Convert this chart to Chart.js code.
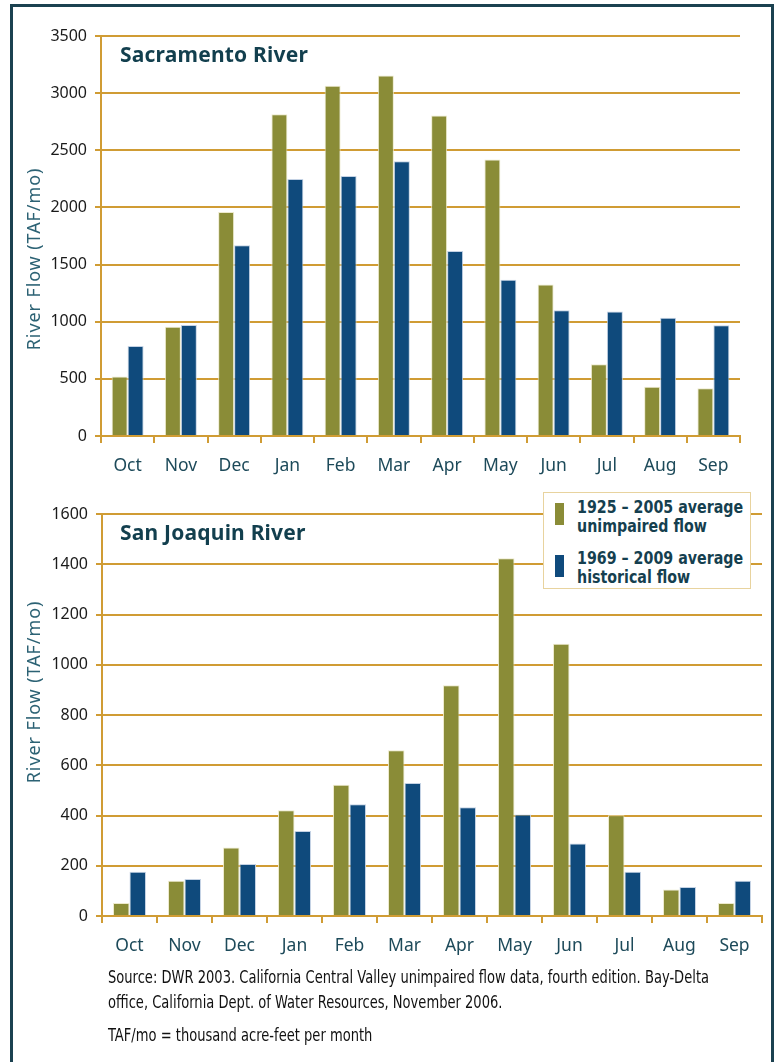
<!DOCTYPE html>
<html>
<head>
<meta charset="utf-8">
<script src="https://cdn.jsdelivr.net/npm/chart.js@4"></script>
<style>
  html, body { margin: 0; padding: 0; background: #fff; }
  body { width: 776px; height: 1062px; position: relative; overflow: hidden; }
  .frame { position: absolute; left: 10px; top: 4px; width: 758px; height: 1100px; border: 3px solid #1b4150; }
  .panel { position: absolute; left: 0; width: 776px; }
  .panel canvas { display: block; }
  .ptitle { position: absolute; left: 120px; font: bold 21px "Noto Sans", sans-serif; color: #123f4e; letter-spacing: 0.2px; }
  .ytitle { position: absolute; font: 18px "Noto Sans", sans-serif; color: #2c6274; letter-spacing: 0.9px;
            white-space: nowrap; transform: translate(-50%, -50%) rotate(-90deg); }
  .legend { position: absolute; left: 543px; top: 492px; width: 206px; height: 95px; background: #fff;
            border: 1.5px solid #e8d39e; font: bold 18px "DejaVu Sans Condensed", sans-serif;
            color: #153f4f; line-height: 19px; }
  .legend .item { position: absolute; left: 22px; }
  .legend .sw { position: absolute; left: -10px; width: 9px; height: 22px; }
  .legend .ln { white-space: nowrap; transform-origin: 0 50%; }
  .source { position: absolute; left: 108px; top: 964px; font: 18px "DejaVu Sans Condensed", sans-serif;
            color: #111; line-height: 25px; }
  .source .ln { white-space: nowrap; transform-origin: 0 50%; }
  .source .gap { height: 8px; }
</style>
</head>
<body>
<div class="frame"></div>

<div class="panel" style="top:0; height:490px;"><canvas id="sacChart" width="776" height="490"></canvas></div>
<div class="panel" style="top:490px; height:480px;"><canvas id="sjChart" width="776" height="480"></canvas></div>

<div class="ptitle" style="top:40px;">Sacramento River</div>
<div class="ptitle" style="top:518px;">San Joaquin River</div>
<div class="ytitle" style="left:33px; top:259px;">River Flow (TAF/mo)</div>
<div class="ytitle" style="left:33px; top:692px;">River Flow (TAF/mo)</div>

<div class="legend" id="legend">
  <span class="sw" style="left:11px; top:10px; background:#8a8c37;"></span>
  <span class="sw" style="left:11px; top:62px; background:#0f4a7c;"></span>
  <div class="item" style="left:33px; top:4px;"><div class="ln">1925 – 2005 average</div><div class="ln">unimpaired flow</div></div>
  <div class="item" style="left:33px; top:55px;"><div class="ln">1969 – 2009 average</div><div class="ln">historical flow</div></div>
</div>

<div class="source" id="source">
  <div class="ln">Source: DWR 2003. California Central Valley unimpaired flow data, fourth edition. Bay-Delta</div>
  <div class="ln">office, California Dept. of Water Resources, November 2006.</div>
  <div class="gap"></div>
  <div class="ln">TAF/mo = thousand acre-feet per month</div>
</div>

<script>
const months = ["Oct", "Nov", "Dec", "Jan", "Feb", "Mar", "Apr", "May", "Jun", "Jul", "Aug", "Sep"];

// Sacramento River, TAF/mo
const sacUnimpaired = [520, 955, 1960, 2815, 3065, 3155, 2805, 2420, 1325, 628, 432, 418];
const sacHistorical = [788, 972, 1668, 2248, 2275, 2405, 1618, 1368, 1100, 1090, 1035, 970];

// San Joaquin River, TAF/mo
const sjUnimpaired = [52, 140, 273, 421, 522, 660, 918, 1424, 1084, 401, 105, 52];
const sjHistorical = [176, 147, 207, 338, 445, 529, 433, 404, 289, 176, 115, 140];

const seriesLabels = ["1925 – 2005 average unimpaired flow", "1969 – 2009 average historical flow"];

const GREEN = "#8a8c37";
const BLUE = "#0f4a7c";
const GOLD = "#d09c34";

function makeChart(id, a, b, yMax, yStep, pad, axisWidth) {
    new Chart(document.getElementById(id), {
        type: "bar",
        data: {
            labels: months,
            datasets: [
                { label: seriesLabels[0], data: a, backgroundColor: GREEN, borderColor: "rgba(235,232,200,0.9)", borderWidth: 1 },
                { label: seriesLabels[1], data: b, backgroundColor: BLUE, borderColor: "rgba(190,205,225,0.9)", borderWidth: 1 }
            ]
        },
        options: {
            responsive: false,
            animation: false,
            layout: { padding: pad },
            datasets: { bar: { categoryPercentage: 0.6, barPercentage: 1.0 } },
            scales: {
                x: {
                    grid: { offset: true, drawOnChartArea: false, drawTicks: true, tickLength: 7, color: GOLD, lineWidth: 2 },
                    border: { color: GOLD, width: 2 },
                    ticks: { color: "#1d4a5a", font: { family: "Noto Sans", size: 17.5 }, padding: 13 },
                    afterFit: s => { s.height = 54; }
                },
                y: {
                    min: 0,
                    max: yMax,
                    grid: { color: GOLD, lineWidth: 2, tickLength: 6 },
                    border: { color: GOLD, width: 2 },
                    ticks: {
                        stepSize: yStep, color: "#1a1a1a", font: { family: "Noto Sans", size: 16 }, padding: 8,
                        callback: v => String(v)
                    },
                    afterFit: s => { s.width = axisWidth; }
                }
            },
            plugins: {
                legend: { display: false },
                tooltip: { enabled: false }
            }
        }
    });
}

makeChart("sacChart", sacUnimpaired, sacHistorical, 3500, 500, { top: 36, right: 36, left: 0, bottom: 0 }, 101);
makeChart("sjChart", sjUnimpaired, sjHistorical, 1600, 200, { top: 24, right: 14, left: 0, bottom: 0 }, 102);

// squeeze the condensed text blocks to the widths seen in the figure
function squeeze(boxId, targetWidth) {
    const lines = document.querySelectorAll("#" + boxId + " .ln");
    const k = targetWidth / lines[0].scrollWidth;
    lines.forEach(el => { el.style.transform = "scaleX(" + k + ")"; });
}
squeeze("legend", 166);
squeeze("source", 601);
</script>
</body>
</html>
